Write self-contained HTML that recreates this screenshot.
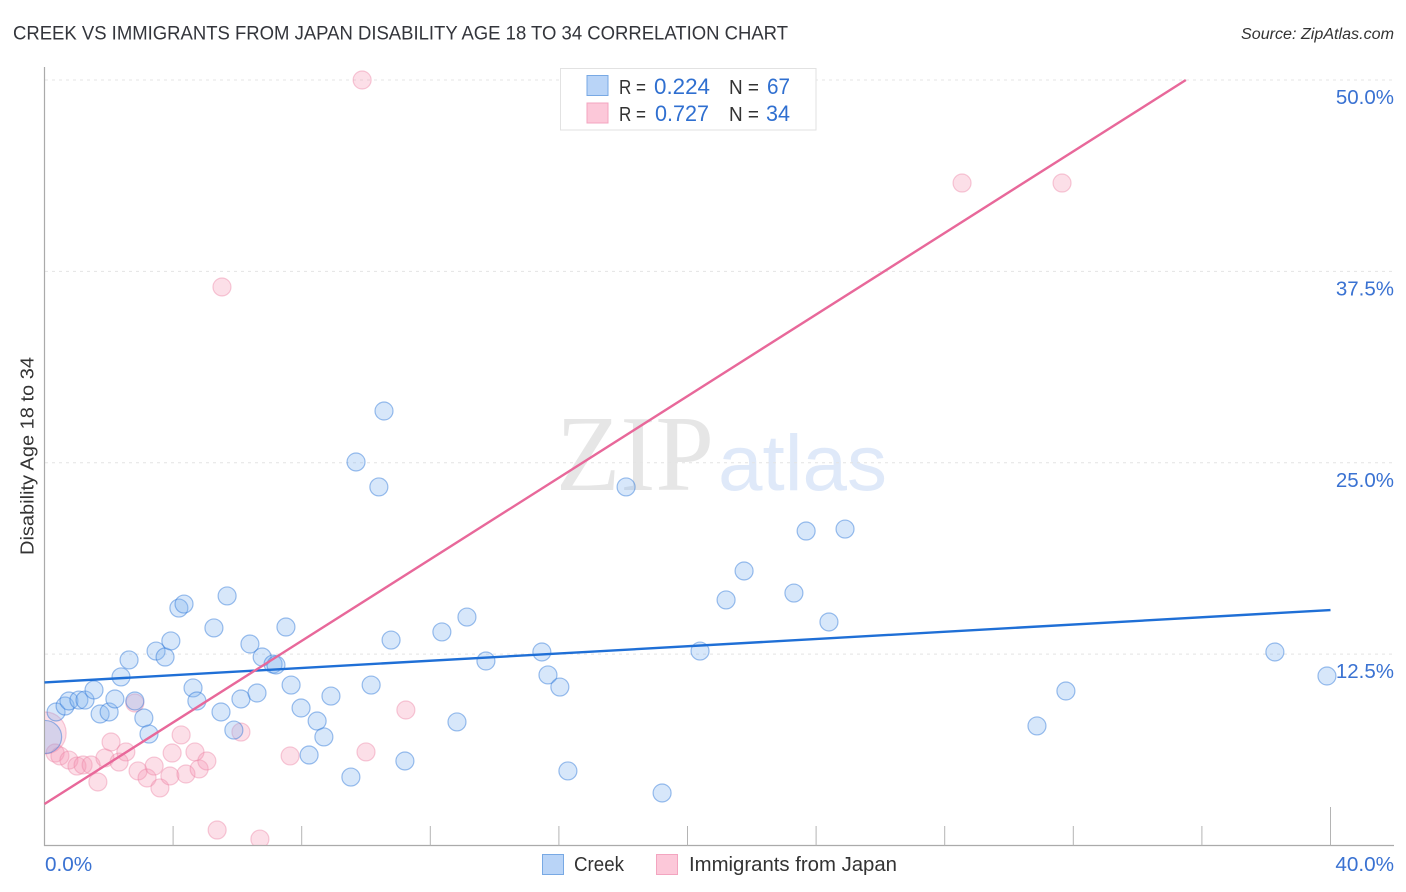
<!DOCTYPE html>
<html lang="en">
<head>
<meta charset="utf-8">
<title>Creek vs Immigrants from Japan Disability Age 18 to 34 Correlation Chart</title>
<style>
html,body{margin:0;padding:0;background:#fff;width:1406px;height:892px;overflow:hidden}
svg{display:block;font-family:"Liberation Sans",sans-serif}
</style>
</head>
<body>
<svg id="chart" width="1406" height="892" viewBox="0 0 1406 892" xmlns="http://www.w3.org/2000/svg">
  <defs>
    <clipPath id="plot-clip"><rect x="45" y="60" width="1349" height="785"/></clipPath>
  </defs>
  <rect x="0" y="0" width="1406" height="892" fill="#fff"/>
  <text x="13" y="39.5" font-size="19.5" fill="#33353b" textLength="775" lengthAdjust="spacingAndGlyphs">CREEK VS IMMIGRANTS FROM JAPAN DISABILITY AGE 18 TO 34 CORRELATION CHART</text>
  <text x="1241" y="39" font-size="15.5" font-style="italic" fill="#333" textLength="153" lengthAdjust="spacingAndGlyphs">Source: ZipAtlas.com</text>
  <g id="watermark">
    <text x="556" y="490" font-family="'Liberation Serif',serif" font-size="108" fill="#e6e6e6" textLength="158" lengthAdjust="spacingAndGlyphs">ZIP</text>
    <text x="718" y="490" font-size="79" fill="#dfe9f9" textLength="169" lengthAdjust="spacingAndGlyphs">atlas</text>
  </g>
  <g id="grid"></g>
  <g id="axes"></g>
  <g id="points" clip-path="url(#plot-clip)"></g>
  <g id="trends"></g>
  <text transform="translate(33.5,456) rotate(-90)" text-anchor="middle" font-size="18.5" fill="#333" textLength="198" lengthAdjust="spacingAndGlyphs">Disability Age 18 to 34</text>
  <g id="stats-legend">
    <rect x="560.5" y="68.5" width="255.5" height="61.5" fill="#fff" stroke="#e2e2e2" stroke-width="1"/>
    <rect x="587" y="75.5" width="21" height="20" fill="#b9d4f7" stroke="#78a9e4" stroke-width="1"/>
    <rect x="587" y="103" width="21" height="20" fill="#fcc8d9" stroke="#f3a5c0" stroke-width="1"/>
    <g font-size="20" fill="#333">
      <text x="619" y="94" textLength="27" lengthAdjust="spacingAndGlyphs">R =</text>
      <text x="729" y="94" textLength="30" lengthAdjust="spacingAndGlyphs">N =</text>
      <text x="619" y="121" textLength="27" lengthAdjust="spacingAndGlyphs">R =</text>
      <text x="729" y="121" textLength="30" lengthAdjust="spacingAndGlyphs">N =</text>
    </g>
    <g font-size="22" fill="#2f6fd0">
      <text x="654" y="94" textLength="56" lengthAdjust="spacingAndGlyphs">0.224</text>
      <text x="767" y="94" textLength="23" lengthAdjust="spacingAndGlyphs">67</text>
      <text x="655" y="121" textLength="54" lengthAdjust="spacingAndGlyphs">0.727</text>
      <text x="766" y="121" textLength="24" lengthAdjust="spacingAndGlyphs">34</text>
    </g>
  </g>
  <g id="series-legend">
    <rect x="542.5" y="854.5" width="21" height="20" fill="#b9d4f7" stroke="#78a9e4" stroke-width="1"/>
    <text x="574" y="871" font-size="20" fill="#333" textLength="50" lengthAdjust="spacingAndGlyphs">Creek</text>
    <rect x="656.5" y="854.5" width="21" height="20" fill="#fcc8d9" stroke="#f3a5c0" stroke-width="1"/>
    <text x="689" y="871" font-size="20" fill="#333" textLength="208" lengthAdjust="spacingAndGlyphs">Immigrants from Japan</text>
  </g>
</svg>
<script>
const yGridValues = [50, 37.5, 25, 12.5];
const yTickLabels = ["50.0%", "37.5%", "25.0%", "12.5%"];
const xTickValues = [4, 8, 12, 16, 20, 24, 28, 32, 36, 40];
const xEndLabels = ["0.0%", "40.0%"];
const creekX = [0.02,0.36,0.64,0.76,1.07,1.26,1.54,1.73,2.01,2.19,2.38,2.63,2.81,3.09,3.25,3.47,3.75,3.93,4.18,4.34,4.62,4.74,5.27,5.49,5.68,5.89,6.11,6.39,6.61,6.77,7.11,7.20,7.51,7.67,7.98,8.23,8.48,8.69,8.91,9.53,9.69,10.16,10.40,10.56,10.78,11.21,12.36,12.83,13.14,13.73,15.47,15.66,16.03,16.28,18.09,19.21,20.39,21.20,21.76,23.31,23.69,24.40,24.90,30.87,31.77,38.27,39.89];
const creekY = [7.09,8.72,9.11,9.44,9.50,9.50,10.16,8.59,8.72,9.57,11.01,12.12,9.44,8.33,7.28,12.70,12.31,13.36,15.51,15.77,10.29,9.44,14.21,8.72,16.30,7.54,9.57,13.16,9.96,12.31,11.85,11.79,14.27,10.48,8.98,5.91,8.13,7.09,9.76,4.47,25.05,10.48,23.42,28.38,13.42,5.52,13.95,8.07,14.92,12.05,12.64,11.14,10.35,4.87,23.42,3.43,12.70,16.04,17.93,16.49,20.54,14.60,20.67,7.81,10.09,12.64,11.07];
const japanX = [0.02,0.33,0.48,0.76,1.01,1.20,1.45,1.66,1.88,2.07,2.32,2.53,2.81,2.91,3.19,3.41,3.59,3.90,3.97,4.25,4.40,4.68,4.81,5.05,5.37,5.52,6.11,6.70,7.64,9.88,10.00,11.24,28.54,31.65];
const japanY = [7.35,6.04,5.85,5.58,5.19,5.26,5.26,4.15,5.72,6.76,5.45,6.11,9.31,4.87,4.41,5.19,3.76,4.54,6.04,7.22,4.67,6.11,5.00,5.52,1.01,36.48,7.41,0.42,5.85,50,6.11,8.85,43.27,43.27];
const creekTrendX = [0, 40];
const creekTrendY = [10.65, 15.38];
const japanTrendX = [0, 35.5];
const japanTrendY = [2.71, 50];

const NS = "http://www.w3.org/2000/svg";
const xScale = function (v) { return 44.5 + v * 32.15; };
const yScale = function (v) { return 845.5 - v * 15.31; };
const mk = function (parent, tag, props) {
  const el = document.createElementNS(NS, tag);
  Object.keys(props).forEach(function (k) { el.setAttribute(k, props[k]); });
  parent.appendChild(el);
  return el;
};

const gridG = document.getElementById("grid");
yGridValues.forEach(function (v, i) {
  const line = mk(gridG, "line", { x1: 45, x2: 1394, y1: yScale(v), y2: yScale(v), stroke: "#e4e4e4", "stroke-width": 1, "stroke-dasharray": "3 4" });
  
  
  const label = mk(gridG, "text", { x: 1394, y: yScale(v) + 24, "text-anchor": "end", "font-size": 20.5, fill: "#3a72d2" });
  
  
  label.textContent = yTickLabels[i];
});

const axesG = document.getElementById("axes");
const yAxisLine = mk(axesG, "line", { x1: 44.5, x2: 44.5, y1: 67, y2: 846, stroke: "#aaa", "stroke-width": 1.2 });


const xAxisLine = mk(axesG, "line", { x1: 44, x2: 1394, y1: 845.5, y2: 845.5, stroke: "#aaa", "stroke-width": 1.2 });


xTickValues.forEach(function (v, i) {
  const isLast = i === xTickValues.length - 1;
  const tick = mk(axesG, "line", { x1: xScale(v), x2: xScale(v), y1: isLast ? 807 : 826, y2: 845.5, stroke: "#b4b4b4", "stroke-width": 1 });
  
  
});
const xStart = mk(axesG, "text", { x: 45, y: 871, "font-size": 20.7, fill: "#3a72d2" });


xStart.textContent = xEndLabels[0];
const xEnd = mk(axesG, "text", { x: 1394, y: 871, "text-anchor": "end", "font-size": 20.7, fill: "#3a72d2" });


xEnd.textContent = xEndLabels[1];

const pointsG = document.getElementById("points");
japanX.forEach(function (v, i) {
  const c = mk(pointsG, "circle", { cx: xScale(v), cy: yScale(japanY[i]), r: i === 0 ? 21 : 9, fill: "rgba(244,150,180,0.30)", stroke: "rgba(236,130,165,0.42)", "stroke-width": 1.2 });
  
  
});
creekX.forEach(function (v, i) {
  const c = mk(pointsG, "circle", { cx: xScale(v), cy: yScale(creekY[i]), r: i === 0 ? 16.5 : 9, fill: "rgba(130,180,240,0.32)", stroke: "rgba(40,115,215,0.45)", "stroke-width": 1.2 });
  
  
});

const trendsG = document.getElementById("trends");
const creekLine = mk(trendsG, "line", { x1: xScale(creekTrendX[0]), y1: yScale(creekTrendY[0]), x2: xScale(creekTrendX[1]), y2: yScale(creekTrendY[1]), stroke: "#1f6fd6", "stroke-width": 2.4 });


const japanLine = mk(trendsG, "line", { x1: xScale(japanTrendX[0]), y1: yScale(japanTrendY[0]), x2: xScale(japanTrendX[1]), y2: yScale(japanTrendY[1]), stroke: "#e8689a", "stroke-width": 2.4 });


</script>
</body>
</html>
